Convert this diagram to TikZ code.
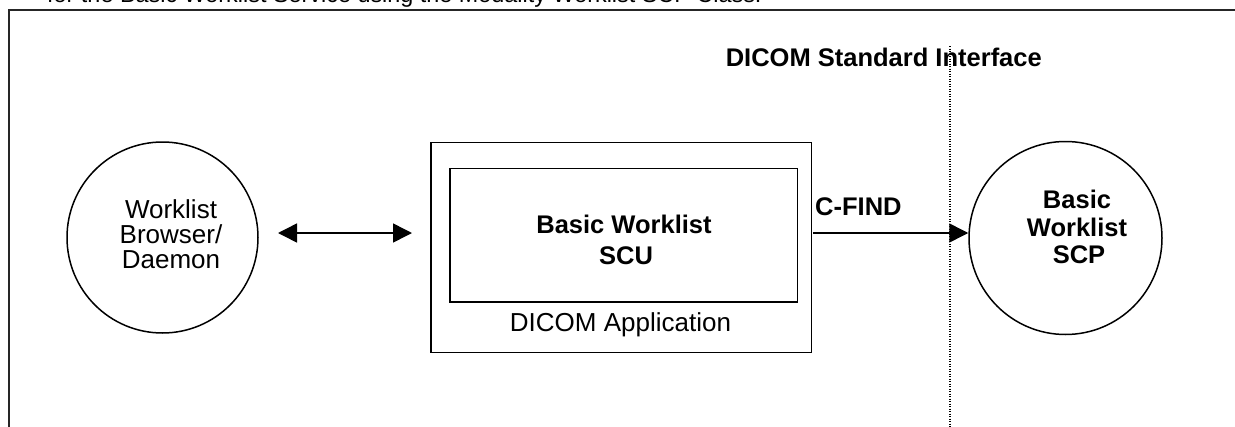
\documentclass[tikz,border=0pt]{standalone}
\usepackage{fontspec}
\setmainfont{Liberation Sans}
\usetikzlibrary{arrows.meta}
\tikzset{tri/.tip={Triangle[length=19pt,width=19pt]}}
\begin{document}
\begin{tikzpicture}[x=1pt,y=-1pt,
  ln/.style={line width=1.5pt},
  framel/.style={line width=1.8pt, color=black!85},
  rg/.style={font=\fontsize{26}{30}\selectfont, inner sep=0pt, anchor=base},
  bd/.style={font=\fontsize{25.5}{30}\selectfont\bfseries, inner sep=0pt, anchor=base},
  circ/.style={circle, draw, line width=1.5pt, minimum size=191pt, inner sep=0pt},
  boxn/.style={draw, line width=1.5pt, inner sep=0pt},
  dots/.style={line width=1.2pt, dash pattern=on 1.2pt off 1.3pt},
]
\useasboundingbox (0,0) rectangle (1235,426);
% caption text cut by the top edge
\node[anchor=base west, inner sep=0pt, font=\fontsize{23.4}{28}\selectfont] (cap) at (47,2) {for the Basic Worklist Service using the Modality Worklist SCP Class.};
% frame
\coordinate (fbl) at (9,428);
\coordinate (ftl) at (9,10);
\coordinate (ftr) at (1237,10);
\draw[framel] (fbl) -- (ftl) -- (ftr);
% circles
\node[circ] (wb) at (162.5,237.5) {};
\node[circ, minimum size=193pt] (scp) at (1065.5,238) {};
% boxes
\node[boxn, minimum width=380.7pt, minimum height=210.4pt] (app) at (621.35,247.5) {};
\node[boxn, minimum width=347.5pt, minimum height=133.7pt] (scu) at (623.75,235.15) {};
% texts
\node[rg] (wb1) at (171,218.6) {Worklist};
\node[rg] (wb2) at (171,243.6) {Browser/};
\node[rg] (wb3) at (171,268.6) {Daemon};
\node[bd] (scu1) at (624,233.3) {Basic Worklist};
\node[bd] (scu2) at (626,264) {SCU};
\node[rg] (appl) at (620.5,331.7) {DICOM Application};
\node[bd] (scp1) at (1077,208.3) {Basic};
\node[bd] (scp2) at (1077,236.7) {Worklist};
\node[bd] (scp3) at (1079,263.3) {SCP};
\node[bd, anchor=base west] (cf) at (815,215) {C-FIND};
\node[bd, anchor=base east] (dsi) at (1042,66) {DICOM Standard Interface};
% dotted interface line
\coordinate (dtop) at (950,46);
\coordinate (dbot) at (950,428);
\draw[dots] (dtop) -- (dbot);
% connectors
\coordinate (d1) at (278,233);
\coordinate (d2) at (412,233);
\draw[ln, tri-tri] (d1) -- (d2);
\coordinate (c1) at (813,233);
\draw[ln, -tri] (c1) -- (c1 -| scp.west);
\end{tikzpicture}
\end{document}
